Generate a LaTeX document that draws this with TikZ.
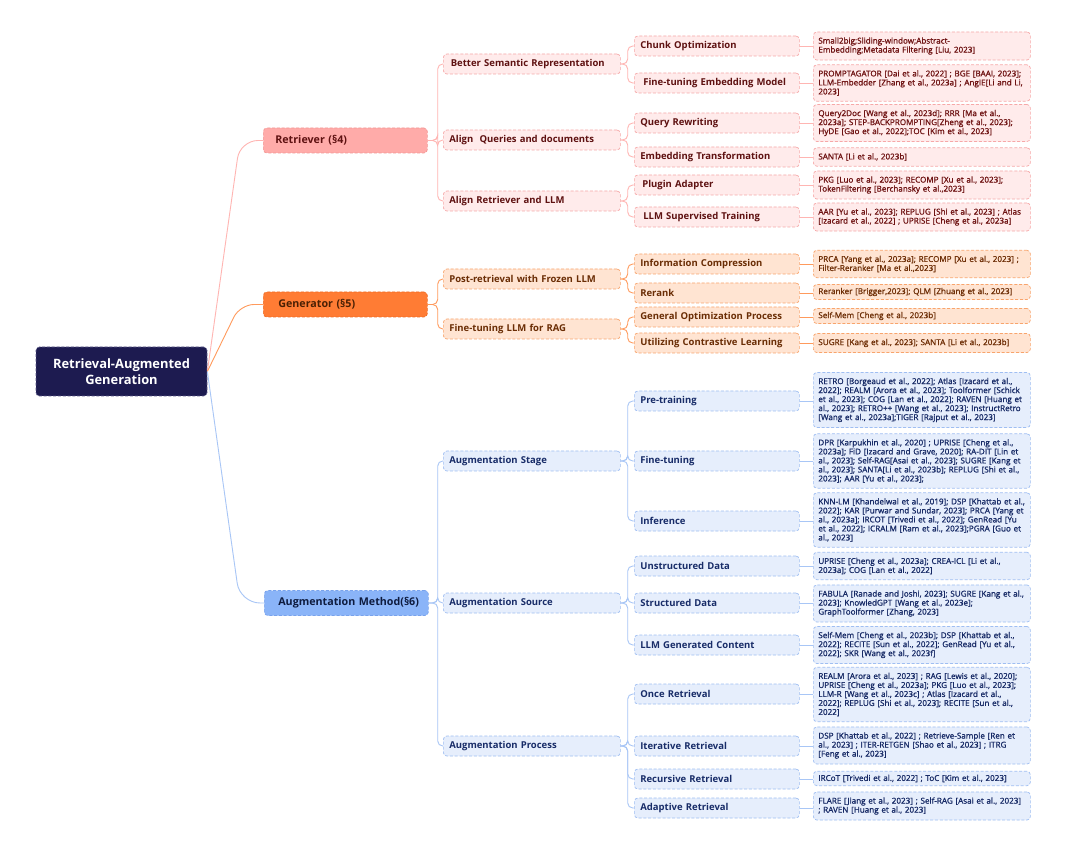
\documentclass[tikz,border=0pt]{standalone}
\usepackage{fontspec}
\setmainfont{Open Sans}
\newfontfamily\lfont{Open Sans}
\newfontfamily\sfont{Open Sans}[FakeBold=1.2]
\usetikzlibrary{calc}
\definecolor{rootfill}{HTML}{1D1B50}
\definecolor{rootedge}{HTML}{5B5988}
\definecolor{pkA}{HTML}{FFABA9}
\definecolor{pkAe}{HTML}{F29593}
\definecolor{pkF}{HTML}{FFEBEB}
\definecolor{pkE}{HTML}{F6A8A8}
\definecolor{pkT}{HTML}{5E1111}
\definecolor{pkLT}{HTML}{6E1212}
\definecolor{pkL}{HTML}{FFB5B2}
\definecolor{orA}{HTML}{FF7C34}
\definecolor{orAe}{HTML}{EE6A22}
\definecolor{orF}{HTML}{FFE4D2}
\definecolor{orE}{HTML}{F8A46C}
\definecolor{orT}{HTML}{6A2D05}
\definecolor{orLT}{HTML}{6E2E06}
\definecolor{orL}{HTML}{FF9A5C}
\definecolor{blA}{HTML}{8AB4F8}
\definecolor{blAe}{HTML}{78A2EC}
\definecolor{blF}{HTML}{E6EEFC}
\definecolor{blE}{HTML}{9FBEF2}
\definecolor{blT}{HTML}{182C68}
\definecolor{blLT}{HTML}{172A66}
\definecolor{blL}{HTML}{A8C6F6}
\tikzset{
  base/.style={draw, dash pattern=on 3pt off 1.8pt, line width=0.7pt, rounded corners=3.5pt,
    anchor=west, inner xsep=6pt, inner ysep=0pt, align=left},
  lone/.style={base, text width=152pt, minimum height=25pt, font=\lfont\bfseries\fontsize{10.7}{13}\selectfont},
  ltwo/.style={base, text width=165pt, minimum height=20pt, font=\lfont\bfseries\fontsize{9.5}{12}\selectfont},
  lthree/.style={base, text width=153pt, minimum height=20pt, font=\lfont\bfseries\fontsize{9.5}{12}\selectfont},
  leafbox/.style={base, text width=207pt, inner xsep=5pt, inner ysep=5.5pt, font=\sfont\fontsize{8.1}{9}\selectfont},
  thin1/.style={inner ysep=3.5pt},
  pinkone/.style={fill=pkA, draw=pkAe, text=pkT},
  pinkbox/.style={fill=pkF, draw=pkE, text=pkT},
  pinkleaf/.style={fill=pkF, draw=pkE, text=pkLT},
  orone/.style={fill=orA, draw=orAe, text=orT!70!black},
  orbox/.style={fill=orF, draw=orE, text=orT},
  orleaf/.style={fill=orF, draw=orE, text=orLT},
  blone/.style={fill=blA, draw=blAe, text=blT!60!black},
  blbox/.style={fill=blF, draw=blE, text=blT},
  blleaf/.style={fill=blF, draw=blE, text=blLT},
  pinkline/.style={draw=pkL, line width=0.9pt, rounded corners=5pt},
  orline/.style={draw=orL, line width=0.9pt, rounded corners=5pt},
  blline/.style={draw=blL, line width=0.9pt, rounded corners=5pt},
}
\begin{document}
\begin{tikzpicture}[x=1pt,y=-1pt]
\fill[white] (0,0) rectangle (1080,842);
\useasboundingbox (0,0) rectangle (1080,842);

% root
\node[draw=rootedge, fill=rootfill, dash pattern=on 3pt off 1.8pt, line width=0.7pt, rounded corners=3.5pt,
  minimum width=171pt, minimum height=49pt, text width=160pt, align=center, text=white,
  font=\lfont\bfseries\fontsize{12.9}{16.5}\selectfont] (root) at (121.5,371.5) {Retrieval-Augmented\\Generation};

% level 1
\node[lone, pinkone] (ret) at (263,140.5) {\hspace*{6pt}Retriever (§4)};
\node[lone, orone] (gen) at (263,304.5) {\hspace*{9pt}Generator (§5)};
\node[lone, blone] (aug) at (264,603) {\hspace*{8pt}Augmentation Method(§6)};

% level 2
\node[ltwo, pinkbox] (bsr) at (443,64) {\hspace*{1.5pt}Better Semantic Representation};
\node[ltwo, pinkbox] (aqd) at (443,140) {Align\ \ Queries and documents};
\node[ltwo, pinkbox] (arl) at (443,201) {Align Retriever and LLM};
\node[ltwo, orbox] (prf) at (443,279) {Post-retrieval with Frozen LLM};
\node[ltwo, orbox] (flr) at (443,329) {Fine-tuning LLM for RAG};
\node[ltwo, blbox] (ast) at (443,461) {Augmentation Stage};
\node[ltwo, blbox] (asr) at (443,603) {Augmentation Source};
\node[ltwo, blbox] (apr) at (443,746) {Augmentation Process};

% level 3
\node[lthree, pinkbox] (cho) at (634,46) {Chunk Optimization};
\node[lthree, pinkbox] (ftem) at (634,83) {\hspace*{3pt}Fine-tuning Embedding Model};
\node[lthree, pinkbox] (qrw) at (634,123) {Query Rewriting};
\node[lthree, pinkbox] (emt) at (634,157) {Embedding Transformation};
\node[lthree, pinkbox] (pla) at (634,185) {\hspace*{2pt}Plugin Adapter};
\node[lthree, pinkbox] (lst) at (634,217) {\hspace*{3pt}LLM Supervised Training};
\node[lthree, orbox] (ico) at (634,264) {Information Compression};
\node[lthree, orbox] (rrk) at (634,293) {Rerank};
\node[lthree, orbox] (gop) at (634,317) {General Optimization Process};
\node[lthree, orbox] (ucl) at (634,343) {Utilizing Contrastive Learning};
\node[lthree, blbox] (ptr) at (634,401) {Pre-training};
\node[lthree, blbox] (ftu) at (634,461) {Fine-tuning};
\node[lthree, blbox] (inf) at (634,521) {Inference};
\node[lthree, blbox] (usd) at (634,566) {Unstructured Data};
\node[lthree, blbox] (sdt) at (634,603) {Structured Data};
\node[lthree, blbox] (lgc) at (634,645) {LLM Generated Content};
\node[lthree, blbox] (onr) at (634,694) {Once Retrieval};
\node[lthree, blbox] (itr) at (634,746) {Iterative Retrieval};
\node[lthree, blbox] (rcr) at (634,779) {Recursive Retrieval};
\node[lthree, blbox] (adr) at (634,808) {Adaptive Retrieval};

% leaves
\node[leafbox, pinkleaf] (l1) at (813,46) {Small2big;Sliding-window;Abstract-\\Embedding;Metadata Filtering [Liu, 2023]};
\node[leafbox, pinkleaf] (l2) at (813,83) {PROMPTAGATOR [Dai et al., 2022] ; BGE [BAAI, 2023];\\LLM-Embedder [Zhang et al., 2023a] ; AngIE[Li and Li,\\2023]};
\node[leafbox, pinkleaf] (l3) at (813,123) {Query2Doc [Wang et al., 2023d]; RRR [Ma et al.,\\2023a]; STEP-BACKPROMPTING[Zheng et al., 2023];\\HyDE [Gao et al., 2022];TOC [Kim et al., 2023]};
\node[leafbox, pinkleaf] (l4) at (813,157) {SANTA [Li et al., 2023b]};
\node[leafbox, pinkleaf] (l5) at (813,185) {PKG [Luo et al., 2023]; RECOMP [Xu et al., 2023];\\TokenFiltering [Berchansky et al.,2023]};
\node[leafbox, pinkleaf] (l6) at (813,217) {AAR [Yu et al., 2023]; REPLUG [Shi et al., 2023] ; Atlas\\{}[Izacard et al., 2022] ; UPRISE [Cheng et al., 2023a]};
\node[leafbox, orleaf] (l7) at (813,264) {PRCA [Yang et al., 2023a]; RECOMP [Xu et al., 2023] ;\\Filter-Reranker [Ma et al.,2023]};
\node[leafbox, orleaf, thin1] (l8) at (813,292) {Reranker [Brigger,2023]; QLM [Zhuang et al., 2023]};
\node[leafbox, orleaf, thin1] (l9) at (813,316) {Self-Mem [Cheng et al., 2023b]};
\node[leafbox, orleaf] (l10) at (813,343) {SUGRE [Kang et al., 2023]; SANTA [Li et al., 2023b]};
\node[leafbox, blleaf] (l11) at (813,400) {RETRO [Borgeaud et al., 2022]; Atlas [Izacard et al.,\\2022]; REALM [Arora et al., 2023]; Toolformer [Schick\\et al., 2023]; COG [Lan et al., 2022]; RAVEN [Huang et\\al., 2023]; RETRO++ [Wang et al., 2023]; InstructRetro\\{}[Wang et al., 2023a];TIGER [Rajput et al., 2023]};
\node[leafbox, blleaf] (l12) at (813,461) {DPR [Karpukhin et al., 2020] ; UPRISE [Cheng et al.,\\2023a]; FiD [Izacard and Grave, 2020]; RA-DIT [Lin et\\al., 2023]; Self-RAG[Asai et al., 2023]; SUGRE [Kang et\\al., 2023]; SANTA[Li et al., 2023b]; REPLUG [Shi et al.,\\2023]; AAR [Yu et al., 2023];};
\node[leafbox, blleaf] (l13) at (813,520) {KNN-LM [Khandelwal et al., 2019]; DSP [Khattab et al.,\\2022]; KAR [Purwar and Sundar, 2023]; PRCA [Yang et\\al., 2023a]; IRCOT [Trivedi et al., 2022]; GenRead [Yu\\et al., 2022]; ICRALM [Ram et al., 2023];PGRA [Guo et\\al., 2023]};
\node[leafbox, blleaf] (l14) at (813,566) {UPRISE [Cheng et al., 2023a]; CREA-ICL [Li et al.,\\2023a]; COG [Lan et al., 2022]};
\node[leafbox, blleaf] (l15) at (813,603.5) {FABULA [Ranade and Joshi, 2023]; SUGRE [Kang et al.,\\2023]; KnowledGPT [Wang et al., 2023e];\\GraphToolformer [Zhang, 2023]};
\node[leafbox, blleaf] (l16) at (813,645) {Self-Mem [Cheng et al., 2023b]; DSP [Khattab et al.,\\2022]; RECITE [Sun et al., 2022]; GenRead [Yu et al.,\\2022]; SKR [Wang et al., 2023f]};
\node[leafbox, blleaf] (l17) at (813,694.5) {REALM [Arora et al., 2023] ; RAG [Lewis et al., 2020];\\UPRISE [Cheng et al., 2023a]; PKG [Luo et al., 2023];\\LLM-R [Wang et al., 2023c] ; Atlas [Izacard et al.,\\2022]; REPLUG [Shi et al., 2023]; RECITE [Sun et al.,\\2022]};
\node[leafbox, blleaf] (l18) at (813,745.5) {DSP [Khattab et al., 2022] ; Retrieve-Sample [Ren et\\al., 2023] ; ITER-RETGEN [Shao et al., 2023] ; ITRG\\{}[Feng et al., 2023]};
\node[leafbox, blleaf, thin1] (l19) at (813,778.5) {IRCoT [Trivedi et al., 2022] ; ToC [Kim et al., 2023]};
\node[leafbox, blleaf] (l20) at (813,806) {FLARE [Jiang et al., 2023] ; Self-RAG [Asai et al., 2023]\\; RAVEN [Huang et al., 2023]};

% root connectors
\draw[pinkline, rounded corners=18pt] (root.east) -- ($(ret.west)+(-23,0)$) -- (ret.west);
\draw[orline, rounded corners=14pt] (root.east) -- ($(gen.west)+(-23,0)$) -- (gen.west);
\draw[blline, rounded corners=20pt] (root.east) -- ($(aug.west)+(-24,0)$) -- (aug.west);

% level1 -> level2
\foreach \c in {bsr,aqd,arl} \draw[pinkline] (ret.east) -- ++(10,0) |- (\c.west);
\foreach \c in {prf,flr} \draw[orline] (gen.east) -- ++(10,0) |- (\c.west);
\foreach \c in {ast,asr,apr} \draw[blline] (aug.east) -- ++(9,0) |- (\c.west);

% level2 -> level3
\foreach \c in {cho,ftem} \draw[pinkline] (bsr.east) -- ++(7,0) |- (\c.west);
\foreach \c in {qrw,emt} \draw[pinkline] (aqd.east) -- ++(7,0) |- (\c.west);
\foreach \c in {pla,lst} \draw[pinkline] (arl.east) -- ++(7,0) |- (\c.west);
\foreach \c in {ico,rrk} \draw[orline] (prf.east) -- ++(7,0) |- (\c.west);
\foreach \c in {gop,ucl} \draw[orline] (flr.east) -- ++(7,0) |- (\c.west);
\foreach \c in {ptr,ftu,inf} \draw[blline] (ast.east) -- ++(7,0) |- (\c.west);
\foreach \c in {usd,sdt,lgc} \draw[blline] (asr.east) -- ++(7,0) |- (\c.west);
\foreach \c in {onr,itr,rcr,adr} \draw[blline] (apr.east) -- ++(7,0) |- (\c.west);

% level3 -> leaves
\foreach \a/\b in {cho/l1,ftem/l2,qrw/l3,emt/l4,pla/l5,lst/l6} \draw[pinkline] (\a.east) -- (\b.west |- \a.east);
\foreach \a/\b in {ico/l7,rrk/l8,gop/l9,ucl/l10} \draw[orline] (\a.east) -- (\b.west |- \a.east);
\foreach \a/\b in {ptr/l11,ftu/l12,inf/l13,usd/l14,sdt/l15,lgc/l16,onr/l17,itr/l18,rcr/l19,adr/l20} \draw[blline] (\a.east) -- (\b.west |- \a.east);
\end{tikzpicture}
\end{document}
